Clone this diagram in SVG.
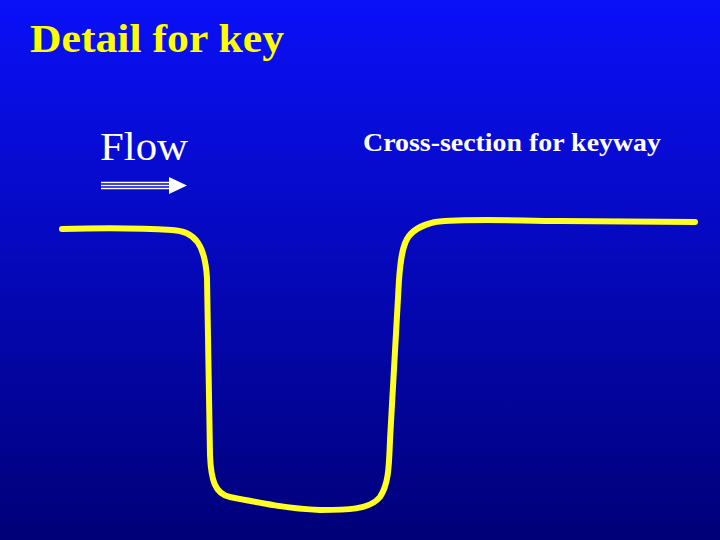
<svg xmlns="http://www.w3.org/2000/svg" width="720" height="540" viewBox="0 0 720 540">
<defs>
<linearGradient id="bg" x1="0" y1="0" x2="0" y2="1">
<stop offset="0" stop-color="#0a10f8"/>
<stop offset="1" stop-color="#000078"/>
</linearGradient>
<style>
.title{font-family:"Liberation Serif",serif;font-weight:bold;fill:#ffff00;}
.lbl{font-family:"Liberation Serif",serif;fill:#ffffff;}
.curve{fill:none;stroke:#ffff22;stroke-width:6;stroke-linecap:round;stroke-linejoin:round;}
</style>
</defs>
<rect width="720" height="540" fill="url(#bg)"/>
<text class="title" x="30" y="52" font-size="40" textLength="254" lengthAdjust="spacingAndGlyphs">Detail for key</text>
<g id="flow">
<text class="lbl" x="100" y="160" font-size="40" textLength="88" lengthAdjust="spacingAndGlyphs">Flow</text>
<g stroke="#ffffff" stroke-width="1.5">
<line x1="101" y1="182.5" x2="172" y2="182.5"/>
<line x1="101" y1="185.5" x2="172" y2="185.5"/>
<line x1="101" y1="188.5" x2="172" y2="188.5"/>
</g>
<polygon points="169,177 187,185.5 169,194" fill="#ffffff"/>
</g>
<text class="lbl" x="363" y="151" font-size="25" font-weight="bold" textLength="298" lengthAdjust="spacingAndGlyphs">Cross-section for keyway</text>
<path class="curve" d="M62,229 C100,228 140,228 172,230 C196,231 205,246 207,278 L210,455 C211,480 215,494 230,497 C260,503 290,509 320,510 C345,510 370,510 380,497 C388,485 389,470 390,440 L399,280 C402,240 406,229 435,222 C470,218 520,221 560,221 L695,222"/>
</svg>
